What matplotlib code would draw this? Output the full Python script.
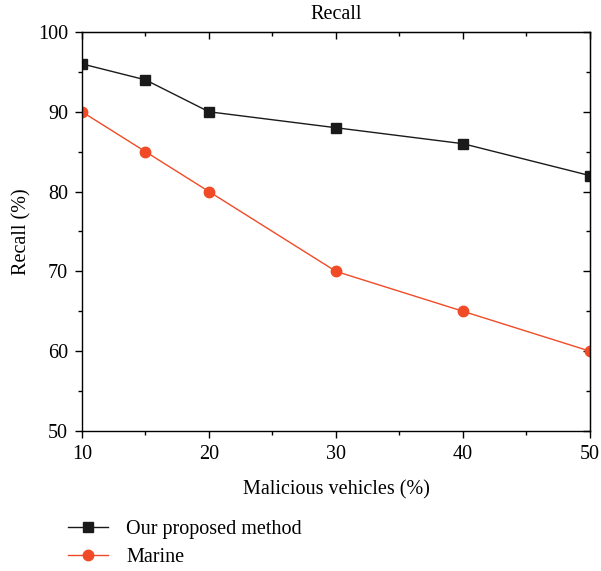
import matplotlib
matplotlib.use("Agg")
import matplotlib.pyplot as plt
from matplotlib.ticker import MultipleLocator

malicious = [10, 15, 20, 30, 40, 50]
ours = [96, 94, 90, 88, 86, 82]
marine = [90, 85, 80, 70, 65, 60]

plt.rcParams['font.family'] = ['Liberation Serif', 'DejaVu Serif']
FS = 14.5
plt.rcParams['font.size'] = FS

fig = plt.figure(figsize=(6.01, 5.71), dpi=100)
ax = fig.add_axes([0.1364, 0.2452, 0.8453, 0.6988])

ax.plot(malicious, ours, color='#1a1a1a', marker='s', markersize=6.5, lw=1.0,
        label='Our proposed method')
ax.plot(malicious, marine, color='#F04B26', marker='o', markersize=7.5, lw=1.0,
        label='Marine')

ax.set_xlim(10, 50)
ax.set_ylim(50, 100)
ax.xaxis.set_major_locator(MultipleLocator(10))
ax.xaxis.set_minor_locator(MultipleLocator(5))
ax.yaxis.set_major_locator(MultipleLocator(10))
ax.yaxis.set_minor_locator(MultipleLocator(5))
ax.tick_params(which='major', direction='out', length=5, width=1, labelsize=FS, pad=5)
ax.tick_params(which='minor', direction='out', length=3, width=1)
for s in ax.spines.values():
    s.set_linewidth(1.0)

secx = ax.secondary_xaxis('top')
secx.xaxis.set_major_locator(MultipleLocator(10))
secx.xaxis.set_minor_locator(MultipleLocator(5))
secx.tick_params(which='major', direction='in', length=5, width=1, labeltop=False)
secx.tick_params(which='minor', direction='in', length=3, width=1)
secy = ax.secondary_yaxis('right')
secy.yaxis.set_major_locator(MultipleLocator(10))
secy.yaxis.set_minor_locator(MultipleLocator(5))
secy.tick_params(which='major', direction='in', length=5, width=1, labelright=False)
secy.tick_params(which='minor', direction='in', length=3, width=1)

ax.set_title('Recall', fontsize=FS, pad=9)
ax.set_xlabel('Malicious vehicles (%)', fontsize=FS, labelpad=12)
ax.set_ylabel('Recall (%)', fontsize=FS, labelpad=5)

fig.legend(loc='upper left', bbox_to_anchor=(0.113, 0.09), frameon=False,
           fontsize=FS, handlelength=2.0, handletextpad=0.9, labelspacing=0.45,
           borderaxespad=0, borderpad=0)

fig.savefig('out.png', dpi=100)
